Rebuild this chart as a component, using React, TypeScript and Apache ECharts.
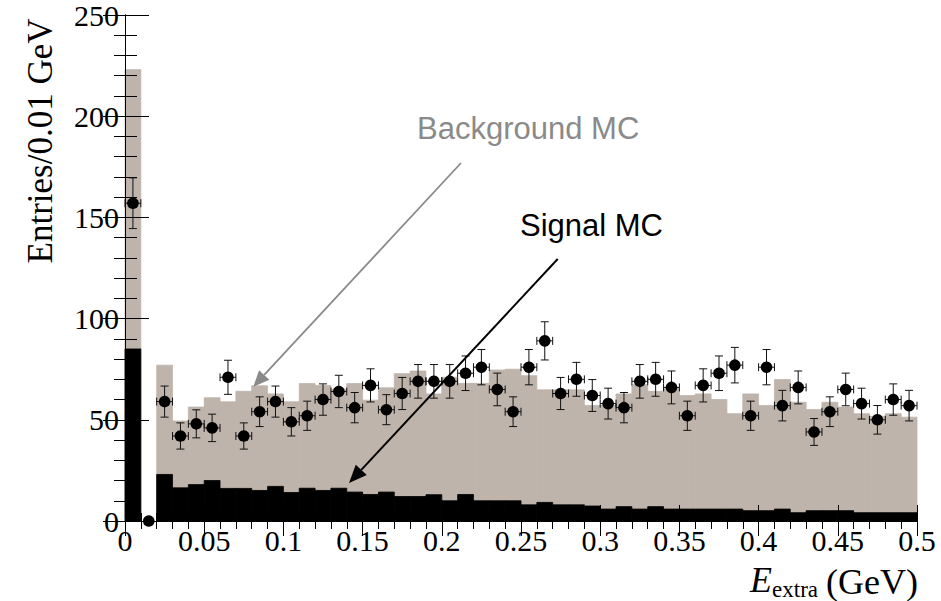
import React, { useEffect, useRef } from "react";
import * as echarts from "echarts";

// 50 bins of 0.01 GeV in E_extra
const BIN_WIDTH = 0.01;

// Stacked MC prediction (background + signal), entries per bin
const totalMC = [
  223, 0, 77, 49.4, 56.3, 60.9, 58.9, 64.1, 66.8, 62.8,
  58.9, 67.9, 66.9, 65.1, 67.9, 59.7, 65.8, 72.8, 74.1, 62.8,
  71, 68, 68, 74.6, 75, 71.8, 64.8, 64.8, 64.8, 57.1,
  57.1, 62.8, 67.3, 64.1, 65.3, 62, 62.8, 60, 53, 62.8,
  57.1, 69.9, 58.7, 55.1, 58.7, 56.3, 53, 51.7, 53, 51.3,
];

// Signal MC component, entries per bin
const signalMC = [
  85, 0, 23, 16.4, 18, 20, 16.1, 16.1, 15.1, 17.1,
  14.1, 16.2, 15.1, 16.2, 14.3, 13.1, 14.3, 12.1, 12.1, 13,
  10, 13.1, 10, 10, 10, 8, 9.2, 8, 8, 7.4,
  5.9, 7.1, 5.9, 7.1, 5.9, 5.9, 5.9, 5.9, 5.9, 5.1,
  5.1, 5.9, 4.1, 5.1, 5.1, 5.1, 4.1, 4.1, 4.1, 4.1,
];

// Observed data counts per bin
const dataCounts = [
  157, 0, 59, 42, 48, 46, 71, 42, 54, 59,
  49, 52, 60, 64, 56, 67, 55, 63, 69, 69,
  69, 73, 76, 65, 54, 76, 89, 63, 70, 62,
  58, 56, 69, 70, 66, 52, 67, 73, 77, 52,
  76, 57, 66, 44, 54, 65, 58, 50, 60, 57,
];

const X_MIN = 0;
const X_MAX = 0.5;
const X_STEP = 0.05;
const Y_MIN = 0;
const Y_MAX = 250;
const Y_STEP = 50;

const MC_GREY = "#beb4ab";
const SERIF = "'Liberation Serif', 'Times New Roman', serif";
const SANS = "'Liberation Sans', Arial, sans-serif";

function histRenderer(color: string, z2: number) {
  return (params: any, api: any) => {
    const v = api.value(2);
    if (!(v > 0)) return { type: "group", children: [] };
    const topLeft = api.coord([api.value(0), v]);
    const bottomRight = api.coord([api.value(1), 0]);
    return {
      type: "rect",
      z2,
      shape: {
        x: topLeft[0],
        y: topLeft[1],
        width: bottomRight[0] - topLeft[0],
        height: bottomRight[1] - topLeft[1],
      },
      style: { fill: color, stroke: color, lineWidth: 0.8 },
    };
  };
}

function pointRenderer(params: any, api: any) {
  const x = api.value(0);
  const n = api.value(1);
  const err = Math.sqrt(n);
  const c = api.coord([x, n]);
  const children: any[] = [];
  const line = (x1: number, y1: number, x2: number, y2: number) => ({
    type: "line",
    shape: { x1, y1, x2, y2 },
    style: { stroke: "#111", lineWidth: 1 },
  });
  if (n > 0) {
    const top = api.coord([x, n + err]);
    const bot = api.coord([x, n - err]);
    const left = api.coord([x - BIN_WIDTH / 2, n]);
    const right = api.coord([x + BIN_WIDTH / 2, n]);
    const cap = 4;
    children.push(line(c[0], top[1], c[0], bot[1]));
    children.push(line(c[0] - cap, top[1], c[0] + cap, top[1]));
    children.push(line(c[0] - cap, bot[1], c[0] + cap, bot[1]));
    children.push(line(left[0], c[1], right[0], c[1]));
    children.push(line(left[0], c[1] - cap, left[0], c[1] + cap));
    children.push(line(right[0], c[1] - cap, right[0], c[1] + cap));
  }
  children.push({
    type: "circle",
    shape: { cx: c[0], cy: c[1], r: 5.8 },
    style: { fill: "#000" },
  });
  return { type: "group", children };
}

function arrow(
  x1: number,
  y1: number,
  x2: number,
  y2: number,
  color: string,
  width: number,
  headLen: number,
  headHalf: number
) {
  const dx = x2 - x1;
  const dy = y2 - y1;
  const len = Math.hypot(dx, dy);
  const ux = dx / len;
  const uy = dy / len;
  const bx = x2 - ux * headLen;
  const by = y2 - uy * headLen;
  const nx = -uy;
  const ny = ux;
  return [
    {
      type: "line",
      shape: { x1, y1, x2: bx, y2: by },
      style: { stroke: color, lineWidth: width },
      z: 10,
    },
    {
      type: "polygon",
      shape: {
        points: [
          [x2, y2],
          [bx + nx * headHalf, by + ny * headHalf],
          [bx - nx * headHalf, by - ny * headHalf],
        ],
      },
      style: { fill: color },
      z: 10,
    },
  ];
}

export default function App() {
  const ref = useRef<HTMLDivElement>(null);

  useEffect(() => {
    if (!ref.current) return;
    const chart = echarts.init(ref.current, null, { renderer: "svg" });

    const tickLabel = {
      fontFamily: SERIF,
      fontSize: 30,
      color: "#000",
    };
    const axisLine = { show: true, lineStyle: { color: "#000", width: 1 } };

    const totalData = totalMC.map((v, i) => [i * BIN_WIDTH, (i + 1) * BIN_WIDTH, v]);
    const signalData = signalMC.map((v, i) => [i * BIN_WIDTH, (i + 1) * BIN_WIDTH, v]);
    const pointData = dataCounts.map((n, i) => [(i + 0.5) * BIN_WIDTH, n]);

    chart.setOption({
      animation: false,
      backgroundColor: "#fff",
      grid: { left: 125, right: 24, top: 13, bottom: 80 },
      xAxis: [
        {
          type: "value",
          position: "bottom",
          min: X_MIN,
          max: X_MAX,
          interval: X_STEP,
          axisLine,
          axisTick: { inside: true, length: 16, lineStyle: { color: "#000" } },
          minorTick: { show: true, splitNumber: 5, length: 8, lineStyle: { color: "#000" } },
          splitLine: { show: false },
          axisLabel: {
            ...tickLabel,
            margin: 4,
            formatter: (v: number) => String(+v.toFixed(2)),
          },
        },
        {
          type: "value",
          position: "top",
          min: X_MIN,
          max: X_MAX,
          interval: X_STEP,
          axisLine,
          axisTick: { inside: true, length: 15, lineStyle: { color: "#000" } },
          minorTick: { show: true, splitNumber: 5, length: 8, lineStyle: { color: "#000" } },
          splitLine: { show: false },
          axisLabel: { show: false },
        },
      ],
      yAxis: [
        {
          type: "value",
          position: "left",
          min: Y_MIN,
          max: Y_MAX,
          interval: Y_STEP,
          axisLine,
          axisTick: { inside: true, length: 24, lineStyle: { color: "#000" } },
          minorTick: { show: true, splitNumber: 5, length: 12, lineStyle: { color: "#000" } },
          splitLine: { show: false },
          axisLabel: { ...tickLabel, margin: 6 },
        },
        {
          type: "value",
          position: "right",
          min: Y_MIN,
          max: Y_MAX,
          interval: Y_STEP,
          axisLine,
          axisTick: { inside: true, length: 22, lineStyle: { color: "#000" } },
          minorTick: { show: true, splitNumber: 5, length: 11, lineStyle: { color: "#000" } },
          splitLine: { show: false },
          axisLabel: { show: false },
        },
      ],
      series: [
        {
          name: "Background MC",
          type: "custom",
          z: 0,
          xAxisIndex: 0,
          yAxisIndex: 0,
          data: totalData,
          encode: { x: [0, 1], y: 2 },
          renderItem: histRenderer(MC_GREY, -10),
        },
        {
          name: "Signal MC",
          type: "custom",
          z: 3,
          xAxisIndex: 0,
          yAxisIndex: 0,
          data: signalData,
          encode: { x: [0, 1], y: 2 },
          renderItem: histRenderer("#000", 0),
        },
        {
          name: "Data",
          type: "custom",
          z: 4,
          clip: false,
          xAxisIndex: 0,
          yAxisIndex: 0,
          data: pointData,
          encode: { x: 0, y: 1 },
          renderItem: pointRenderer,
        },
      ],
      graphic: [
        {
          type: "text",
          x: 40,
          y: 141,
          rotation: Math.PI / 2,
          style: {
            text: "Entries/0.01 GeV",
            font: `35px ${SERIF}`,
            fill: "#000",
            align: "center",
            verticalAlign: "middle",
          },
        },
        {
          type: "text",
          x: 918,
          y: 600,
          style: {
            text: "(GeV)",
            font: `36px ${SERIF}`,
            fill: "#000",
            align: "right",
            verticalAlign: "bottom",
          },
        },
        {
          type: "text",
          x: 818,
          y: 601,
          style: {
            text: "extra",
            font: `23px ${SERIF}`,
            fill: "#000",
            align: "right",
            verticalAlign: "bottom",
          },
        },
        {
          type: "text",
          x: 772,
          y: 598,
          style: {
            text: "E",
            font: `italic 36px ${SERIF}`,
            fill: "#000",
            align: "right",
            verticalAlign: "bottom",
          },
        },
        {
          type: "text",
          x: 417,
          y: 128,
          style: {
            text: "Background MC",
            font: `31px ${SANS}`,
            fill: "#8a8a8a",
            align: "left",
            verticalAlign: "middle",
          },
        },
        {
          type: "text",
          x: 520,
          y: 225,
          style: {
            text: "Signal MC",
            font: `31px ${SANS}`,
            fill: "#000",
            align: "left",
            verticalAlign: "middle",
          },
        },
        ...arrow(461, 163, 253.3, 386.7, "#8a8a8a", 1.8, 16, 7),
        ...arrow(557.7, 259, 349, 483, "#000", 2, 18, 7.5),
      ],
    });

    return () => chart.dispose();
  }, []);

  return (
    <div
      ref={ref}
      style={{ position: "fixed", left: 0, top: 0, width: 941, height: 601, background: "#fff" }}
    />
  );
}
